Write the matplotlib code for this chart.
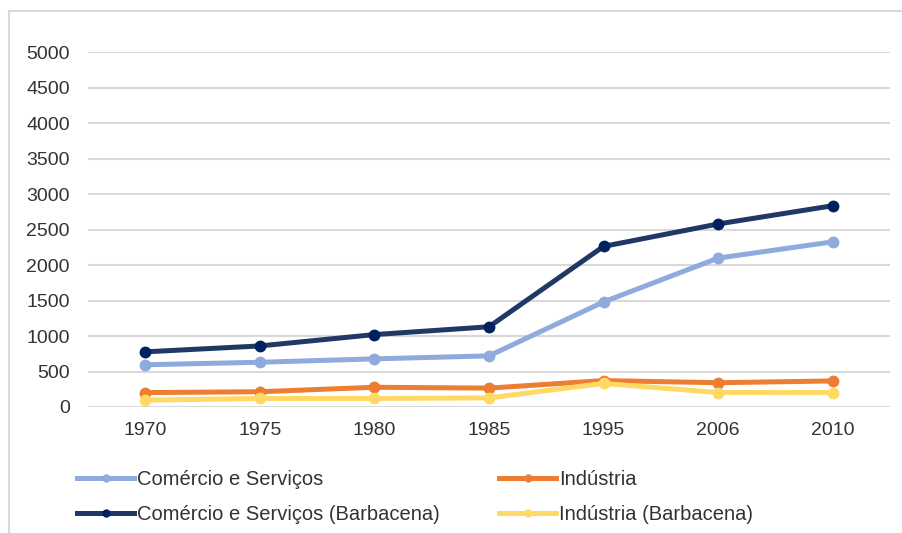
import matplotlib.pyplot as plt
from matplotlib.lines import Line2D

plt.rcParams['font.family'] = ['Liberation Sans', 'DejaVu Sans']

years = ['1970', '1975', '1980', '1985', '1995', '2006', '2010']
comercio = [595, 630, 678, 720, 1480, 2097, 2326]
industria = [203, 215, 278, 266, 372, 342, 367]
comercio_barb = [777, 860, 1020, 1130, 2262, 2578, 2835]
industria_barb = [96, 120, 120, 128, 332, 204, 204]

series = [
    ('Comércio e Serviços', comercio, '#8faadc', '#8faadc'),
    ('Indústria', industria, '#ed7d31', '#ed7d31'),
    ('Comércio e Serviços (Barbacena)', comercio_barb, '#203864', '#002060'),
    ('Indústria (Barbacena)', industria_barb, '#ffd966', '#ffd966'),
]
text_color = '#333333'

fig = plt.figure(figsize=(9.03, 5.33), dpi=100)
ax = fig.add_axes([0.0975, 0.2364, 0.888, 0.666])

# chart frame: only top and left edges show in the screenshot
fx, fy = 8.5 / 903, 1 - 10.5 / 533
fig.add_artist(Line2D([fx, 1], [fy, fy], transform=fig.transFigure,
                      color='#d9d9d9', linewidth=1.5))
fig.add_artist(Line2D([fx, fx], [0, fy], transform=fig.transFigure,
                      color='#d9d9d9', linewidth=1.5))

x = range(len(years))
handles = {}
for label, vals, lc, mc in series:
    ax.plot(x, vals, color=lc, linewidth=3.6, marker='o', markersize=7.5,
            markerfacecolor=mc, markeredgecolor=mc)
    handles[label] = Line2D([], [], color=lc, linewidth=3.6, marker='o',
                            markersize=5, markerfacecolor=mc,
                            markeredgecolor=mc)

ax.set_xlim(-0.5, len(years) - 0.5)
ax.set_ylim(0, 5000)
ax.set_yticks(range(0, 5001, 500))
ax.set_xticks(list(x))
ax.set_xticklabels(years)
ax.grid(axis='y', color='#d9d9d9', linewidth=1.5)
ax.set_axisbelow(True)
for s in ax.spines.values():
    s.set_visible(False)
ax.tick_params(axis='both', length=0, labelsize=14, labelcolor=text_color)
ax.tick_params(axis='y', pad=13)
ax.tick_params(axis='x', pad=11)

# column order: left column = Comércio pair, right column = Indústria pair
order = ['Comércio e Serviços', 'Comércio e Serviços (Barbacena)',
         'Indústria', 'Indústria (Barbacena)']
leg = fig.legend([handles[k] for k in order], order, loc='lower left',
                 bbox_to_anchor=(0.073, -0.004), ncol=2, frameon=False,
                 fontsize=14.5, handlelength=2.85, handletextpad=0.12,
                 columnspacing=2.95, labelspacing=0.8, borderpad=0.05)
for t in leg.get_texts():
    t.set_color(text_color)

fig.savefig('out.png', dpi=100)
